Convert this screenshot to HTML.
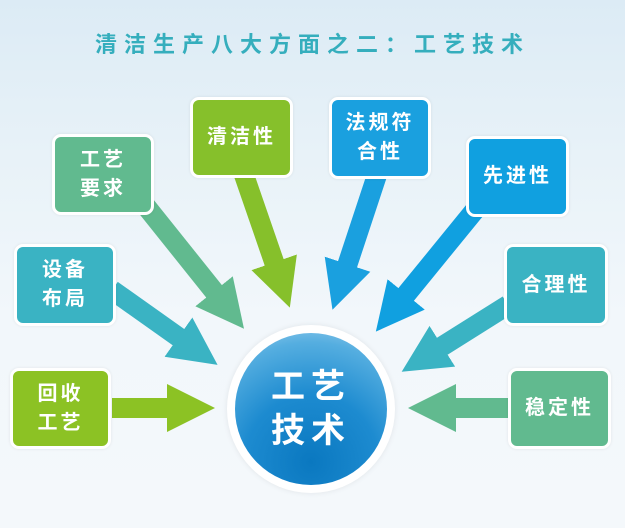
<!DOCTYPE html>
<html><head><meta charset="utf-8"><style>
body{margin:0;width:625px;height:528px;overflow:hidden;font-family:"Liberation Sans","Noto Sans CJK SC",sans-serif;
background:linear-gradient(180deg,#dcebf5 0%,#e8f2f8 30%,#f2f7fb 60%,#f4f8fb 100%);position:relative}
.t{position:absolute;left:0;width:625px;top:27px;text-align:center;color:#35aebd;font-weight:bold;font-size:22px;letter-spacing:7px}
.b{position:absolute;box-sizing:border-box;border:3px solid #fff;border-radius:9px;color:#fff;font-weight:bold;font-size:20px;letter-spacing:3px;display:flex;align-items:center;justify-content:center;text-align:center;line-height:29px;box-shadow:0 0 3px rgba(0,0,0,.08)}
.c{position:absolute;left:227px;top:325px;width:168px;height:168px;border-radius:50%;background:#fff;box-shadow:0 0 6px rgba(0,0,0,.08)}
.ci{position:absolute;left:8px;top:8px;width:152px;height:152px;border-radius:50%;background:radial-gradient(circle at 50% 85%,#0a78c0 0%,#1d8bd0 45%,#55aee0 80%,#9ed0ee 100%);color:#fff;font-weight:bold;font-size:34px;letter-spacing:6px;display:flex;align-items:center;justify-content:center;text-align:center;line-height:44px}
</style></head><body>
<div class="t">清洁生产八大方面之二：工艺技术</div>
<svg width="625" height="528" style="position:absolute;left:0;top:0">
<defs>
<marker id="m" viewBox="0 0 10 10" refX="5" refY="5" markerWidth="2.4" markerHeight="2.4" orient="auto"><path d="M0,0 L10,5 L0,10 Z" fill="context-stroke"/></marker>
</defs>
<g stroke-width="20" marker-end="url(#m)">
<line x1="112" y1="408" x2="191" y2="408" stroke="#8cc224"/>
<line x1="112" y1="290" x2="198" y2="351" stroke="#3ab3c3"/>
<line x1="145" y1="205" x2="229" y2="310" stroke="#61ba8f"/>
<line x1="243" y1="172" x2="282" y2="285" stroke="#86c02b"/>
<line x1="377" y1="175" x2="340" y2="287" stroke="#1aa0df"/>
<line x1="475" y1="210" x2="391" y2="313" stroke="#10a0e0"/>
<line x1="508" y1="305" x2="422" y2="359" stroke="#3ab3c3"/>
<line x1="510" y1="408" x2="432" y2="408" stroke="#61ba8f"/>
</g>
</svg>
<div class="b" style="left:10px;top:368px;width:101px;height:81px;background:#8cc224">回收<br>工艺</div>
<div class="b" style="left:14px;top:244px;width:102px;height:82px;background:#3ab3c3">设备<br>布局</div>
<div class="b" style="left:52px;top:134px;width:102px;height:81px;background:#61ba8f">工艺<br>要求</div>
<div class="b" style="left:190px;top:97px;width:103px;height:81px;background:#86c02b">清洁性</div>
<div class="b" style="left:329px;top:97px;width:102px;height:82px;background:#1aa0df">法规符<br>合性</div>
<div class="b" style="left:466px;top:136px;width:103px;height:81px;background:#10a0e0">先进性</div>
<div class="b" style="left:504px;top:244px;width:104px;height:82px;background:#3ab3c3">合理性</div>
<div class="b" style="left:508px;top:368px;width:103px;height:81px;background:#61ba8f">稳定性</div>
<div class="c"><div class="ci">工艺<br>技术</div></div>
</body></html>
